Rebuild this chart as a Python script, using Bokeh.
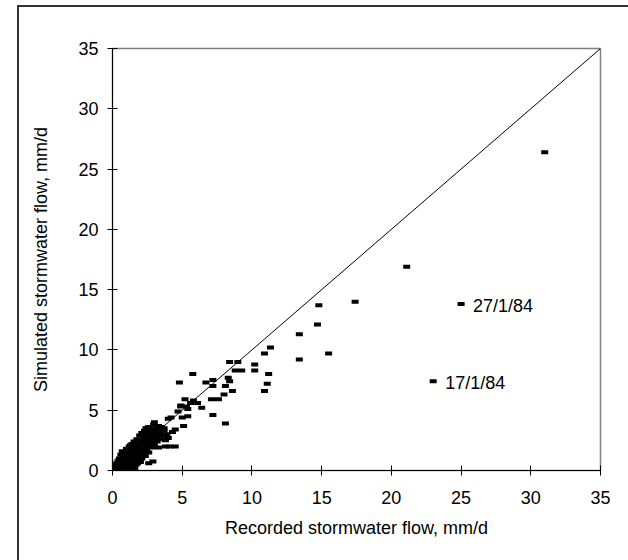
from bokeh.plotting import figure
from bokeh.models import ColumnDataSource, FixedTicker
from bokeh.core.properties import value
from bokeh.embed import file_html
from bokeh.resources import INLINE

# Recorded vs simulated stormwater flow (mm/d)
recorded = [
    0.1, 0.15, 0.2, 0.2, 0.25, 0.3, 0.3, 0.35, 0.4, 0.4, 0.45, 0.5, 0.5, 0.55, 0.6, 0.6,
    0.65, 0.7, 0.7, 0.75, 0.8, 0.8, 0.85, 0.9, 0.9, 0.95, 1.0, 1.0, 1.05, 1.1, 1.1, 1.15,
    1.2, 1.2, 1.25, 1.3, 1.3, 1.35, 1.4, 1.4, 1.45, 1.5, 1.5, 1.55, 1.6, 1.6, 1.65, 1.7,
    1.7, 1.75, 1.8, 1.8, 1.85, 1.9, 1.9, 1.95, 2.0, 2.0, 2.05, 2.1, 2.1, 2.15, 2.2, 2.2,
    2.25, 2.3, 2.3, 2.35, 2.4, 2.4, 2.45, 2.5, 2.5, 2.55, 2.6, 2.6, 2.65, 2.7, 2.7, 2.8,
    2.8, 2.85, 2.9, 2.95, 3.0, 3.0, 3.1, 3.1, 3.2, 3.2, 3.3, 3.3, 3.4, 3.5, 3.5, 3.6,
    3.7, 3.8, 3.9, 4.0, 0.3, 0.5, 0.7, 1.0, 1.2, 1.4, 1.8, 2.0, 1.1, 0.9, 1.3, 1.6,
    2.9, 3.0, 2.6, 2.5, 2.3, 3.3, 3.7, 3.4, 4.0, 4.2, 4.5, 4.3, 3.8, 4.1, 4.5,
    5.2, 4.9, 5.3, 5.6, 6.1, 6.4, 5.4, 4.7, 5.0, 5.4, 5.1, 4.8, 5.76, 5.8, 4.9,
    6.7, 7.2, 7.2, 7.1, 7.6, 7.2, 8.1, 8.6, 8.0, 8.1, 8.4, 8.8, 8.3, 8.4, 9.27, 8.99,
    10.2, 10.2, 10.9, 11.33, 11.2, 11.1, 10.9, 13.4, 13.4, 14.7, 14.8, 15.5, 17.4,
    21.1, 31.0, 25.0, 23.0,
]
simulated = [
    0.1, 0.3, 0.05, 0.4, 0.2, 0.6, 0.1, 0.35, 0.8, 0.2, 0.5, 1.0, 0.3, 0.7, 0.15, 1.3,
    0.45, 0.9, 1.6, 0.3, 1.2, 0.6, 0.1, 1.5, 0.8, 0.4, 1.1, 1.8, 0.65, 0.2, 1.4, 0.9,
    2.0, 0.5, 1.2, 1.6, 0.8, 0.3, 2.2, 1.0, 1.4, 0.6, 1.8, 2.4, 1.2, 0.9, 2.0, 1.5,
    0.5, 2.6, 1.8, 1.1, 2.2, 0.8, 1.6, 2.9, 2.0, 1.3, 2.5, 1.0, 3.1, 1.8, 2.3, 1.5,
    2.7, 3.3, 2.0, 1.2, 2.8, 3.5, 1.7, 2.4, 3.0, 2.1, 3.6, 1.5, 2.7, 3.2, 2.3, 1.9,
    3.4, 2.9, 2.5, 3.8, 3.1, 2.2, 3.5, 2.7, 3.0, 2.4, 3.4, 1.9, 3.2, 2.6, 3.6, 2.9,
    3.3, 2.5, 3.0, 2.7, 0.05, 0.15, 0.25, 0.35, 0.3, 0.4, 0.6, 0.7, 0.1, 1.2, 2.1, 0.2,
    0.75, 4.0, 0.6, 3.5, 3.2, 3.7, 3.5, 2.9, 4.3, 4.4, 3.4, 3.2, 2.0, 2.0, 2.0,
    5.9, 5.3, 5.3, 5.6, 5.6, 5.2, 5.1, 4.9, 4.4, 4.5, 3.7, 7.3, 8.0, 5.8, 5.4,
    7.3, 7.5, 7.0, 5.9, 5.9, 4.6, 3.9, 6.6, 6.3, 7.0, 7.4, 8.3, 7.7, 9.0, 8.3, 9.0,
    8.8, 8.3, 9.7, 10.2, 8.0, 7.2, 6.6, 11.3, 9.2, 12.1, 13.7, 9.7, 14.0,
    16.9, 26.4, 13.8, 7.4,
]
label_x = [25.0, 23.0]
label_y = [13.8, 7.4]
label_text = ["27/1/84", "17/1/84"]
ticks = [0, 5, 10, 15, 20, 25, 30, 35]
line_x = [0, 35]
line_y = [0, 35]

FONT = "Liberation Sans"

p = figure(
    frame_width=488, frame_height=422,
    min_border_left=93, min_border_top=41, min_border_right=28, min_border_bottom=90,
    x_range=(0, 35), y_range=(0, 35),
    output_backend="svg", toolbar_location=None,
    background_fill_color="white", border_fill_color="white",
)
p.margin = (5, 0, 0, 17)
p.styles = {"border-left": "2px solid #333333", "border-top": "2px solid #333333"}
p.grid.visible = False
p.outline_line_color = "#808080"
p.outline_line_width = 1.5

for ax in (p.xaxis[0], p.yaxis[0]):
    ax.ticker = FixedTicker(ticks=ticks)
    ax.minor_tick_line_color = None
    ax.major_tick_in = 5
    ax.major_tick_out = 5
    ax.axis_line_color = "black"
    ax.major_tick_line_color = "black"
    ax.major_label_text_font = FONT
    ax.major_label_text_font_size = "18px"
    ax.major_label_text_color = "black"
    ax.axis_label_text_font = FONT
    ax.axis_label_text_font_size = "18px"
    ax.axis_label_text_font_style = "normal"
    ax.axis_label_text_color = "black"

p.xaxis.axis_label = "Recorded stormwater flow, mm/d"
p.yaxis.axis_label = "Simulated stormwater flow, mm/d"
p.xaxis.major_label_standoff = 15
p.xaxis.axis_label_standoff = 11
p.yaxis.major_label_standoff = 9
p.yaxis.axis_label_standoff = 24

p.line(line_x, line_y, line_color="black", line_width=1)

src = ColumnDataSource(dict(x=recorded, y=simulated))
p.rect("x", "y", width=7, height=4, width_units="screen", height_units="screen",
       source=src, fill_color="black", line_color=None)

lsrc = ColumnDataSource(dict(x=label_x, y=label_y, t=label_text))
p.text("x", "y", text="t", source=lsrc, x_offset=12, y_offset=2,
       text_font=value(FONT), text_font_size="18px", text_baseline="middle",
       text_align="left", text_color="black")

open("out.html", "w").write(file_html(p, INLINE))
